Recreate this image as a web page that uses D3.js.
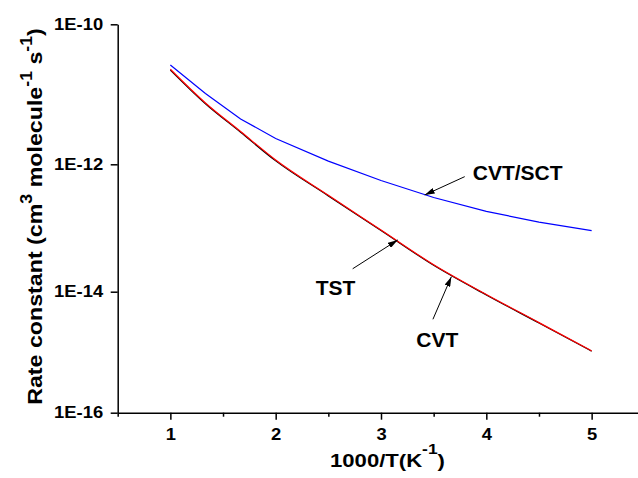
<!DOCTYPE html>
<html>
<head>
<meta charset="utf-8">
<script src="https://cdn.jsdelivr.net/npm/d3@7"></script>
<style>
body { margin: 0; background: #fff; }
text { font-family: "Liberation Sans", Arial, sans-serif; font-weight: bold; fill: #000; }
</style>
</head>
<body>
<div id="chart"></div>
<script>
// 1000/T points (T = 1000 ... 200 K)
var invT = [1, 1.333, 1.667, 2, 2.5, 3, 3.5, 4, 4.5, 5];

// rate constants, cm3 molecule-1 s-1
var kTST = [2.22e-11, 7.33e-12, 2.87e-12, 1.12e-12, 3.19e-13, 9.12e-14, 2.60e-14, 8.85e-15, 3.04e-15, 1.04e-15];
var kCVT = [2.28e-11, 7.52e-12, 2.94e-12, 1.15e-12, 3.26e-13, 9.31e-14, 2.65e-14, 8.99e-15, 3.08e-15, 1.05e-15];
var kSCT = [2.62e-11, 1.03e-11, 4.44e-12, 2.34e-12, 1.11e-12, 5.57e-13, 3.01e-13, 1.82e-13, 1.24e-13, 9.08e-14];

var xTicks = [1, 2, 3, 4, 5];
var xMinor = [0.5, 1.5, 2.5, 3.5, 4.5, 5.5];
var yTicks = [1e-16, 1e-14, 1e-12, 1e-10];

// labels with arrows (data units)
var noteText = ["CVT/SCT", "TST", "CVT"];
var noteX = [3.871, 2.38, 3.335];
var noteY = [5.7e-13, 8.9e-15, 1.23e-15];
var tailX = [3.795, 2.731, 3.493];
var tailY = [6.4e-13, 2.29e-14, 3.5e-15];
var tipX = [3.415, 3.159, 3.668];
var tipY = [3.3e-13, 6.5e-14, 1.72e-14];

var svgWidth = 638;
var svgHeight = 478;

var svg = d3.select("#chart")
    .append("svg")
    .attr("width", svgWidth)
    .attr("height", svgHeight);

var x = d3.scaleLinear()
    .domain([0.5, 5.5])
    .range([117.7, 644.3]);

// the decades on the original axis are not evenly spaced
var yExp = d3.scaleLinear()
    .domain(yTicks.map(d => Math.round(Math.log10(d))))
    .range([412.7, 291.7, 164.3, 24.3]);
var y = d => yExp(Math.log10(d));

// axes
var gx = svg.append("g")
    .attr("transform", "translate(0,412.7)")
    .call(d3.axisBottom(x).tickValues(xTicks).tickFormat(d3.format("d")).tickSize(7).tickSizeOuter(0));

svg.append("g")
    .attr("transform", "translate(0,412.7)")
    .call(d3.axisBottom(x).tickValues(xMinor).tickFormat("").tickSize(4).tickSizeOuter(0))
    .call(g => g.select(".domain").remove());

gx.selectAll("text")
    .attr("y", 15.6)
    .attr("font-size", "16px")
    .attr("transform", "scale(1.15,1)");

var gy = svg.append("g")
    .attr("transform", "translate(117.7,0)")
    .call(d3.axisLeft(yExp).tickValues(yTicks.map(d => Math.round(Math.log10(d)))).tickFormat(d => "1E" + d).tickSize(7).tickSizeOuter(0));

gy.selectAll("text")
    .attr("x", 0)
    .attr("font-size", "16px")
    .attr("transform", "translate(-14.5,0) scale(1.15,1)");

svg.selectAll(".domain, .tick line")
    .attr("stroke", "#000")
    .attr("stroke-width", 1.5);
svg.selectAll(".tick text").attr("font-family", null);

// curves
var line = d3.line()
    .x(d => x(d[0]))
    .y(d => y(d[1]));

var series = [
    { k: kSCT, color: "#0000ff", curve: d3.curveLinear },
    { k: kTST, color: "#000000", curve: d3.curveMonotoneX },
    { k: kCVT, color: "#ff0000", curve: d3.curveMonotoneX }
];

series.forEach(function(s) {
    svg.append("path")
        .datum(d3.zip(invT, s.k))
        .attr("fill", "none")
        .attr("stroke", s.color)
        .attr("stroke-width", 1.2)
        .attr("d", line.curve(s.curve));
});

// arrow heads
svg.append("defs").append("marker")
    .attr("id", "head")
    .attr("markerUnits", "userSpaceOnUse")
    .attr("viewBox", "0 0 10 6")
    .attr("refX", 10)
    .attr("refY", 3)
    .attr("markerWidth", 10)
    .attr("markerHeight", 6)
    .attr("orient", "auto")
    .append("path")
    .attr("d", "M0,0L10,3L0,6Z")
    .attr("fill", "#000");

noteText.forEach(function(t, i) {
    svg.append("line")
        .attr("x1", x(tailX[i]))
        .attr("y1", y(tailY[i]))
        .attr("x2", x(tipX[i]))
        .attr("y2", y(tipY[i]))
        .attr("stroke", "#000")
        .attr("stroke-width", 1)
        .attr("marker-end", "url(#head)");

    svg.append("text")
        .attr("x", x(noteX[i]))
        .attr("y", y(noteY[i]))
        .attr("font-size", "21px")
        .text(t);
});

// axis titles, stretched to the width seen in the original
function fitWidth(t, w) {
    var bw = t.node().getBBox().width;
    t.attr("transform", `scale(${w / bw},1)`);
}

var xt = svg.append("g")
    .attr("transform", "translate(387.5,466.7)")
    .append("text")
    .attr("text-anchor", "middle")
    .attr("font-size", "19px");
xt.append("tspan").text("1000/T(K");
xt.append("tspan").attr("font-size", "15px").attr("dy", -13).text("-1");
xt.append("tspan").attr("dy", 13).text(")");
fitWidth(xt, 115);

var yt = svg.append("g")
    .attr("transform", "translate(41.5,216.5) rotate(-90)")
    .append("text")
    .attr("text-anchor", "middle")
    .attr("font-size", "21px");
yt.append("tspan").text("Rate constant (cm");
yt.append("tspan").attr("font-size", "16px").attr("dy", -10).text("3");
yt.append("tspan").attr("dy", 10).text(" molecule");
yt.append("tspan").attr("font-size", "16px").attr("dy", -10).text("-1");
yt.append("tspan").attr("dy", 10).text(" s");
yt.append("tspan").attr("font-size", "16px").attr("dy", -10).text("-1");
yt.append("tspan").attr("dy", 10).text(")");
fitWidth(yt, 377);
</script>
</body>
</html>
